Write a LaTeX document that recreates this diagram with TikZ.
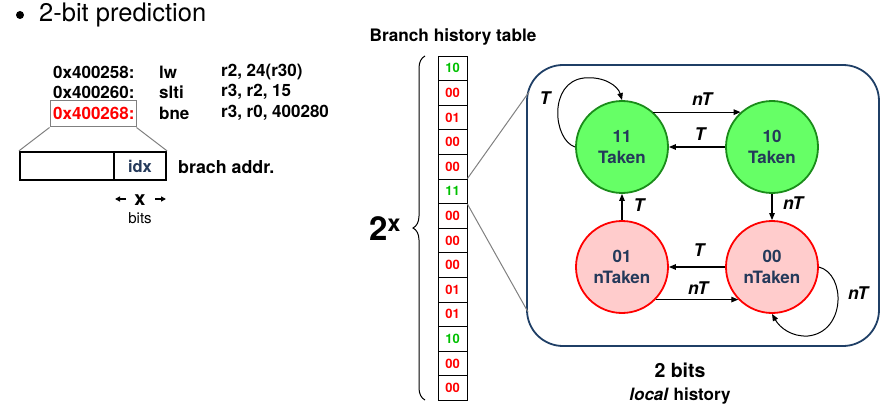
\documentclass[tikz,border=0pt]{standalone}
\usepackage{fontspec}
\setmainfont{TeX Gyre Heros}
\usetikzlibrary{arrows.meta,decorations.pathreplacing,calc}
\definecolor{navy}{HTML}{24395A}
\definecolor{boxblue}{HTML}{1F3F66}
\definecolor{gfill}{HTML}{66FF66}
\definecolor{gline}{HTML}{1A8C1A}
\definecolor{rfill}{HTML}{FFCCCC}
\definecolor{tgreen}{HTML}{00C000}
\tikzset{
  fs/.style={font=\fontsize{#1}{#1}\selectfont},
  code/.style={anchor=west, inner sep=0pt, font=\fontsize{17}{18}\selectfont\bfseries},
  cell/.style={draw, line width=0.8pt, minimum width=29pt, minimum height=24.6pt, inner sep=0pt, font=\fontsize{13}{13}\selectfont\bfseries},
  gstate/.style={circle, draw=gline, fill=gfill, line width=1.8pt, minimum size=92pt, inner sep=0pt, align=center, text=navy, font=\fontsize{17}{21.5}\selectfont\bfseries},
  rstate/.style={circle, draw=red, fill=rfill, line width=1.8pt, minimum size=92pt, inner sep=0pt, align=center, text=navy, font=\fontsize{17}{21.5}\selectfont\bfseries},
  arr/.style={-{Triangle[length=7pt,width=5.5pt]}, line width=1.2pt},
  loop arr/.style={-{Triangle[length=7pt,width=5.5pt]}, line width=1pt},
  lab/.style={inner sep=0pt, font=\fontsize{17.5}{17}\selectfont\bfseries\itshape},
  gray line/.style={draw=gray, line width=1pt},
}
\begin{document}
\begin{tikzpicture}[x=1pt,y=-1pt]
\useasboundingbox (0,0) rectangle (891,417);
% header
\node[circle, fill=black, minimum size=8pt, inner sep=0pt] (bullet) at (20,15) {};
\node[anchor=west, inner sep=0pt, fs=25.5] (title) at (39,15) {2-bit prediction};
% code
\node[code] (a1) at (53,72) {0x400258:};
\node[code] (o1) at (159,72) {lw};
\node[code] (r1) at (221,72) {r2, 24(r30)};
\node[code] (a2) at (53,92) {0x400260:};
\node[code] (o2) at (159,92) {slti};
\node[code] (r2) at (221,92) {r3, r2, 15};
\node[code, text=red] (a3) at (53,113) {0x400268:};
\node[code] (o3) at (159,113) {bne};
\node[code] (r3) at (221,113) {r3, r0, 400280};
\node[draw=gray, line width=1pt, minimum width=86pt, minimum height=26pt, inner sep=0pt] (hl) at (93,114) {};
% address box
\node[draw, line width=2.2pt, minimum width=94pt, minimum height=28pt, inner sep=0pt] (hi) at (67,166) {};
\node[draw, line width=2.2pt, minimum width=52pt, minimum height=28pt, inner sep=0pt, text=navy, font=\fontsize{16.5}{16}\selectfont\bfseries] (idx) at (140,166) {idx};
\draw[gray line] (hl.south west) -- (hi.north west);
\draw[gray line] (hl.south east) -- (idx.north east);
\node[anchor=west, inner sep=0pt, font=\fontsize{17.8}{16}\selectfont\bfseries] (baddr) at (178,167) {brach addr.};
\node[inner sep=0pt, font=\fontsize{20}{20}\selectfont\bfseries] (xx) at (140,200) {x};
\node[inner sep=0pt, fs=15] (bits) at (140,218) {bits};
\coordinate (la) at (126,199);
\coordinate (lb) at (115,199);
\coordinate (ra) at (155,199);
\coordinate (rb) at (166,199);
\draw[-{Triangle[length=5pt,width=5pt]}, line width=1.2pt] (la) -- (lb);
\draw[-{Triangle[length=5pt,width=5pt]}, line width=1.2pt] (ra) -- (rb);
% table
\node[inner sep=0pt, font=\fontsize{17.2}{16}\selectfont\bfseries] (bht) at (453,37) {Branch history table};
\foreach \v/\c [count=\i] in {10/tgreen,00/red,01/red,00/red,00/red,11/tgreen,00/red,00/red,00/red,01/red,01/red,10/tgreen,00/red,00/red}{
  \node[cell, text=\c] (c\i) at (452.5, {56+(\i-0.5)*24.6}) {\v};
}
\coordinate (br1) at (425,400);
\coordinate (br2) at (425,56);
\draw[line width=1pt, decorate, decoration={brace, amplitude=12pt}] (br1) -- (br2);
\node[inner sep=0pt, font=\fontsize{33}{34}\selectfont\bfseries] (two) at (385,229) {2\textsuperscript{x}};
% FSM box
\node[draw=boxblue, line width=1.8pt, rounded corners=36pt, minimum width=352pt, minimum height=281pt, inner sep=0pt] (fsm) at (703,205.5) {};
\coordinate (f1) at (529,92);
\coordinate (f2) at (528,312);
\draw[gray line] (c6.north east) -- (f1);
\draw[gray line] (c6.south east) -- (f2);
\node[gstate] (s11) at (622,147) {11\\Taken};
\node[gstate] (s10) at (772,147) {10\\Taken};
\node[rstate] (s01) at (622,267) {01\\nTaken};
\node[rstate] (s00) at (772,267) {00\\nTaken};
\draw[arr] (s11.48) -- (s10.132);
\draw[arr] (s10.west) -- (s11.east);
\draw[arr] (s10.south) -- (s00.north);
\draw[arr] (s01.north) -- (s11.south);
\draw[arr] (s00.west) -- (s01.east);
\draw[arr] (s01.-44) -- (s00.-136);
\draw[loop arr] (s11.west) .. controls (553,140) and (548,82) .. (584,78) .. controls (604,76) and (618,86) .. (s11.north);
\draw[loop arr] (s00.east) .. controls (846,274) and (846,332) .. (808,336) .. controls (792,337) and (780,328) .. (s00.south);
\node[lab] (l1) at (702,99) {nT};
\node[lab] (l2) at (700,134) {T};
\node[lab] (l3) at (793,203) {nT};
\node[lab] (l4) at (639,205) {T};
\node[lab] (l5) at (699,250) {T};
\node[lab] (l6) at (698,288) {nT};
\node[lab] (l7) at (545,98) {T};
\node[lab] (l8) at (858,293) {nT};
\node[inner sep=0pt, font=\fontsize{19.5}{20}\selectfont\bfseries] (twob) at (680,370) {2 bits};
\node[inner sep=0pt, font=\fontsize{17}{16}\selectfont\bfseries] (loc) at (680,396) {\textit{local} history};
\end{tikzpicture}
\end{document}
